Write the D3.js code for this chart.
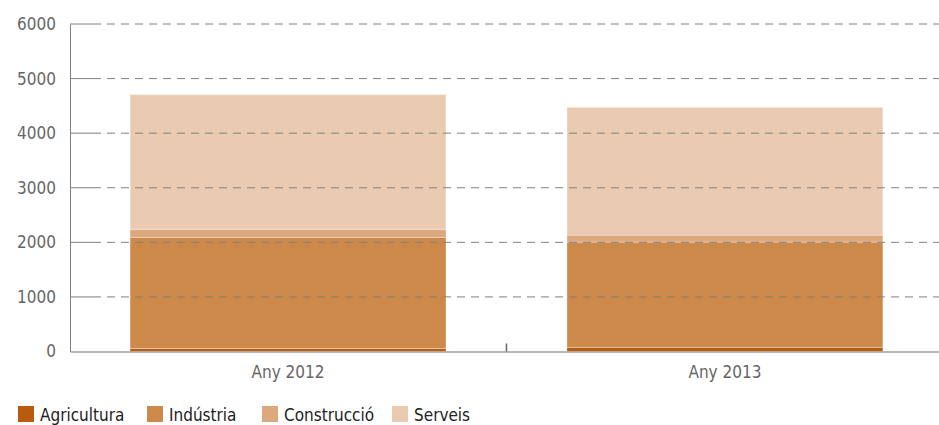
<!DOCTYPE html>
<html lang="ca">
<head>
  <meta charset="UTF-8">
  <title>Ocupats per sector</title>
  <style>
    body { margin: 0; padding: 0; background: #fff; }
    svg text { font-family: "DejaVu Sans", sans-serif; font-stretch: condensed; fill: #666; }
  </style>
</head>
<body>
  <svg id="chart" width="939" height="425"></svg>
  <script src="https://d3js.org/d3.v7.min.js"></script>
  <script>
    // data
    const years = ["Any 2012", "Any 2013"];
    const sectors = ["Agricultura", "Indústria", "Construcció", "Serveis"];
    const agricultura = [55, 77];
    const industria = [2037, 1927];
    const construccio = [147, 128];
    const serveis = [2467, 2341];
    const yTicks = [0, 1000, 2000, 3000, 4000, 5000, 6000];
    const colors = ["#b95b0e", "#cd894a", "#dca87d", "#eacbb1"];

    const svg = d3.select("#chart");
    const margin = { left: 70, right: 0, top: 24, bottom: 73.5 };
    const width = 939, height = 425;

    const x = d3.scaleBand()
      .domain(years)
      .range([margin.left, width - margin.right])
      .paddingInner(0.277)
      .paddingOuter(0.133)
      .align(0.517);

    const y = d3.scaleLinear()
      .domain([0, 6000])
      .range([height - margin.bottom, margin.top]);

    const rows = years.map((yr, i) => ({
      year: yr,
      Agricultura: agricultura[i],
      "Indústria": industria[i],
      "Construcció": construccio[i],
      Serveis: serveis[i]
    }));
    const stacked = d3.stack().keys(sectors)(rows);

    // bars
    svg.append("g")
      .selectAll("g")
      .data(stacked)
      .enter()
      .append("g")
        .attr("fill", (d, i) => colors[i])
      .selectAll("rect")
      .data(d => d)
      .enter()
      .append("rect")
        .attr("x", d => x(d.data.year))
        .attr("width", x.bandwidth())
        .attr("y", d => y(d[1]))
        .attr("height", d => y(d[0]) - y(d[1]))
        .attr("stroke", "#fff")
        .attr("stroke-opacity", 0.3)
        .attr("stroke-width", 1);

    // gridlines on top of the bars
    const grid = svg.append("g");
    grid.selectAll("line.dash")
      .data(yTicks.filter(t => t > 0))
      .enter()
      .append("line")
        .attr("x1", margin.left + 23)
        .attr("x2", width)
        .attr("y1", d => y(d))
        .attr("y2", d => y(d))
        .attr("stroke", "#808080")
        .attr("stroke-width", 1)
        .attr("stroke-dasharray", "8,6");
    grid.selectAll("line.solid")
      .data(yTicks.filter(t => t > 0))
      .enter()
      .append("line")
        .attr("x1", margin.left)
        .attr("x2", margin.left + 23)
        .attr("y1", d => y(d))
        .attr("y2", d => y(d))
        .attr("stroke", "#808080")
        .attr("stroke-width", 1);

    // y axis
    const yAxis = svg.append("g")
      .attr("transform", `translate(${margin.left},0)`)
      .call(d3.axisLeft(y).tickValues(yTicks).tickSize(0).tickPadding(14).tickFormat(d3.format("d")));
    yAxis.select(".domain").attr("stroke", "#808080");
    yAxis.selectAll("text").style("font-size", "17px").attr("fill", "#666");

    // x axis
    const xAxis = svg.append("g")
      .attr("transform", `translate(0,${y(0)})`)
      .call(d3.axisBottom(x).tickSize(0).tickPadding(14));
    xAxis.select(".domain").attr("stroke", "#a0a0a0").attr("stroke-width", 1.5);
    xAxis.selectAll("text").style("font-size", "17px").attr("fill", "#666");

    // category separator tick
    const sep = (x(years[0]) + x.bandwidth() + x(years[1])) / 2;
    svg.append("line")
      .attr("x1", sep).attr("x2", sep)
      .attr("y1", y(0) - 8).attr("y2", y(0))
      .attr("stroke", "#666")
      .attr("stroke-width", 1.5);

    // legend
    const legendX = [18, 147, 262, 392];
    const legend = svg.append("g")
      .selectAll("g")
      .data(sectors)
      .enter()
      .append("g")
        .attr("transform", (d, i) => `translate(${legendX[i]},406)`);
    legend.append("rect")
      .attr("width", 16).attr("height", 16)
      .attr("fill", (d, i) => colors[i]);
    legend.append("text")
      .attr("x", 22).attr("y", 15)
      .style("font-size", "17px")
      .style("fill", "#222")
      .text(d => d);
  </script>
</body>
</html>
